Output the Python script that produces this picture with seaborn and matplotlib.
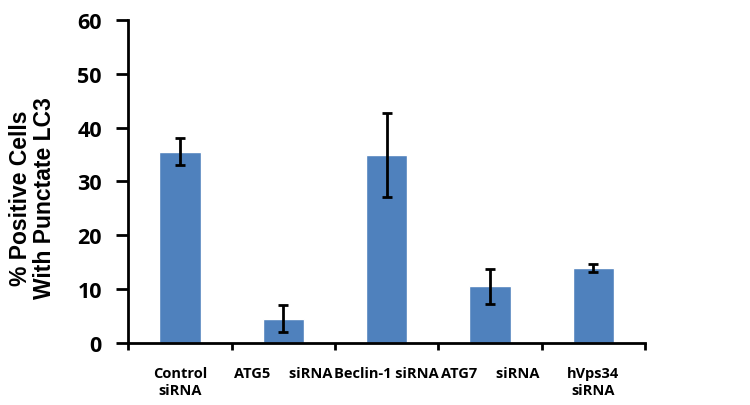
import matplotlib
matplotlib.use("Agg")
import matplotlib.pyplot as plt
import seaborn as sns
import pandas as pd
import numpy as np

# dados
categorias = ["Control\nsiRNA", "ATG5     siRNA", "Beclin-1 siRNA", "ATG7     siRNA", "hVps34\nsiRNA"]
valores = [35.5, 4.5, 35.0, 10.5, 13.9]
erros = [2.5, 2.45, 7.8, 3.2, 0.75]

sns.set_style("white")
plt.rcParams["font.family"] = ["Open Sans", "DejaVu Sans"]
plt.rcParams["font.weight"] = "bold"
plt.rcParams["text.color"] = "black"
plt.rcParams["xtick.color"] = "black"
plt.rcParams["ytick.color"] = "black"
plt.rcParams["axes.labelcolor"] = "black"

df = pd.DataFrame({"cat": categorias, "val": valores})

fig = plt.figure(figsize=(7.5, 4.06), dpi=100)
ax = fig.add_axes([0.171, 0.153, 0.689, 0.795])

sns.barplot(data=df, x="cat", y="val", color="#4F81BD", saturation=1, width=0.4, ax=ax)
ax.errorbar(np.arange(len(valores)), valores, yerr=erros, fmt="none",
            ecolor="black", elinewidth=2, capsize=3.5, capthick=2)

ax.set_ylim(0, 60)
ax.set_xlim(-0.5, 4.5)
ax.set_yticks(range(0, 61, 10))
ax.set_ylabel("% Positive Cells\nWith Punctate LC3", fontsize=16.5, fontweight="bold",
              family=["Liberation Sans", "DejaVu Sans"], linespacing=1.1, color="black")
ax.yaxis.set_label_coords(-0.139, 0.452)
ax.set_xlabel("")

sns.despine(ax=ax)
for s in ["left", "bottom"]:
    ax.spines[s].set_linewidth(2)
    ax.spines[s].set_color("black")

ax.tick_params(axis="y", direction="out", length=9, width=2, labelsize=15.5, pad=10, left=True,
               colors="black")
ax.tick_params(axis="x", which="major", length=0, labelsize=10.5, pad=17, colors="black")
ax.set_xticks(np.arange(-0.5, 5, 1), minor=True)
ax.tick_params(axis="x", which="minor", direction="out", length=5, width=2, bottom=True)
for lbl in ax.get_xticklabels() + ax.get_yticklabels():
    lbl.set_fontweight("bold")
    lbl.set_linespacing(1.25)

fig.savefig("out.png", dpi=100)
